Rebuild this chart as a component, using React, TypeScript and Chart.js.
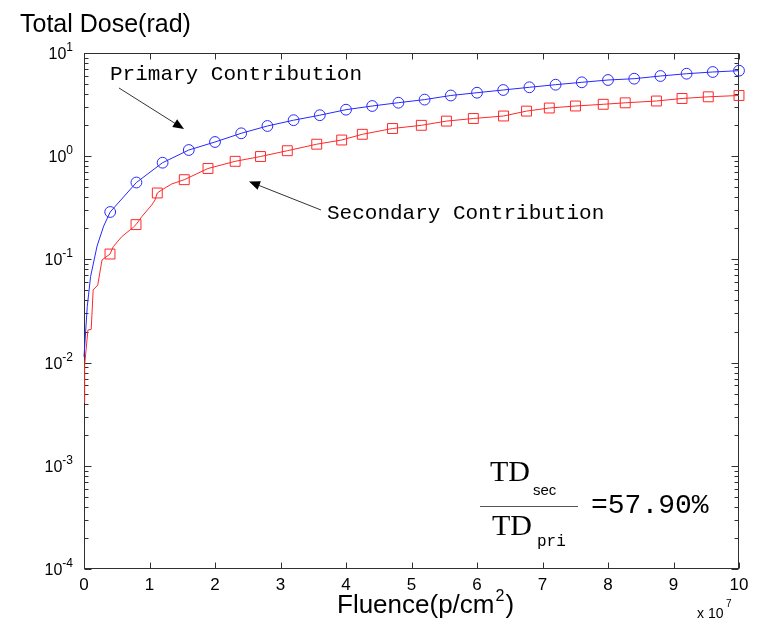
import React, { useEffect, useRef } from "react";
import { Chart, registerables } from "chart.js";

Chart.register(...registerables);

// Fluence (x 1e7 p/cm^2) and total dose (rad)
const primaryStartX = [0.0, 0.05, 0.1, 0.2, 0.3];
const primaryStartY = [0.0114, 0.035, 0.068, 0.135, 0.21];
const primaryX = [0.4, 0.8, 1.2, 1.6, 2.0, 2.4, 2.8, 3.2, 3.6, 4.0, 4.4, 4.8, 5.2, 5.6, 6.0, 6.4, 6.8, 7.2, 7.6, 8.0, 8.4, 8.8, 9.2, 9.6, 10.0];
const primaryY = [0.288, 0.556, 0.865, 1.148, 1.373, 1.667, 1.962, 2.233, 2.496, 2.823, 3.065, 3.299, 3.535, 3.875, 4.123, 4.38, 4.653, 4.93, 5.2, 5.474, 5.636, 5.985, 6.3, 6.545, 6.74];

const secondaryStepX = [0.0, 0.01, 0.06, 0.11, 0.14, 0.21, 0.275, 0.447, 0.576, 0.753, 0.881, 1.034, 1.084, 1.186, 1.339];
const secondaryStepY = [0.0041, 0.0095, 0.0207, 0.021, 0.0505, 0.0565, 0.0987, 0.1328, 0.166, 0.2047, 0.259, 0.3365, 0.3765, 0.4705, 0.538];
const secondaryX = [0.397, 0.794, 1.119, 1.531, 1.893, 2.308, 2.695, 3.104, 3.553, 3.934, 4.249, 4.71, 5.15, 5.534, 5.944, 6.405, 6.756, 7.104, 7.504, 7.927, 8.263, 8.74, 9.13, 9.531, 10.0];
const secondaryY = [0.1127, 0.2173, 0.44, 0.592, 0.76, 0.892, 0.993, 1.13, 1.307, 1.435, 1.63, 1.855, 1.992, 2.188, 2.319, 2.452, 2.735, 2.931, 3.065, 3.184, 3.29, 3.427, 3.624, 3.763, 3.875];

const xTicks = [0, 1, 2, 3, 4, 5, 6, 7, 8, 9, 10];
const yTickExponents = [-4, -3, -2, -1, 0, 1];
const yMinorFactors = [2, 3, 4, 5, 6, 7, 8, 9];

const yTitle = "Total Dose(rad)";
const xTitleMain = "Fluence(p/cm";
const xTitleSup = "2";
const primaryLabel = "Primary Contribution";
const secondaryLabel = "Secondary Contribution";
const ratioText = "=57.90%";

function pts(xs: number[], ys: number[]) {
  return xs.map((x, i) => ({ x, y: ys[i] }));
}
function merged(ax: number[], ay: number[], bx: number[], by: number[]) {
  return pts(ax, ay).concat(pts(bx, by)).sort((a, b) => a.x - b.x);
}

const SANS = '"Liberation Sans", Arial, Helvetica, sans-serif';
const MONO = '"Liberation Mono", "Courier New", monospace';
const SERIF = '"Liberation Serif", "Times New Roman", serif';

function arrow(ctx: CanvasRenderingContext2D, x1: number, y1: number, x2: number, y2: number) {
  const ang = Math.atan2(y2 - y1, x2 - x1);
  const L = 11, W = 4.5;
  ctx.strokeStyle = "#333";
  ctx.lineWidth = 1;
  ctx.beginPath();
  ctx.moveTo(x1, y1);
  ctx.lineTo(x2 - L * 0.8 * Math.cos(ang), y2 - L * 0.8 * Math.sin(ang));
  ctx.stroke();
  ctx.fillStyle = "#000";
  ctx.beginPath();
  ctx.moveTo(x2, y2);
  ctx.lineTo(x2 - L * Math.cos(ang) + W * Math.sin(ang), y2 - L * Math.sin(ang) - W * Math.cos(ang));
  ctx.lineTo(x2 - L * Math.cos(ang) - W * Math.sin(ang), y2 - L * Math.sin(ang) + W * Math.cos(ang));
  ctx.closePath();
  ctx.fill();
}

const framePlugin = {
  id: "matlabFrame",
  beforeDatasetsDraw(chart: any) {
    const ctx: CanvasRenderingContext2D = chart.ctx;
    const xs = chart.scales.x;
    const ys = chart.scales.y;
    const { left, right, top, bottom } = chart.chartArea;
    const L = Math.round(left) + 0.5, R = Math.round(right) - 0.5;
    const T = Math.round(top) + 0.5, B = Math.round(bottom) - 0.5;
    ctx.save();
    ctx.strokeStyle = "#303030";
    ctx.lineWidth = 1;
    ctx.strokeRect(L, T, R - L, B - T);
    ctx.beginPath();
    xTicks.forEach((v) => {
      const px = Math.round(xs.getPixelForValue(v)) + 0.5;
      ctx.moveTo(px, B); ctx.lineTo(px, B - 6);
      ctx.moveTo(px, T); ctx.lineTo(px, T + 6);
    });
    yTickExponents.forEach((e, i) => {
      const py = Math.round(ys.getPixelForValue(Math.pow(10, e))) + 0.5;
      ctx.moveTo(L, py); ctx.lineTo(L + 7, py);
      ctx.moveTo(R, py); ctx.lineTo(R - 7, py);
      if (i < yTickExponents.length - 1) {
        yMinorFactors.forEach((f) => {
          const my = Math.round(ys.getPixelForValue(f * Math.pow(10, e))) + 0.5;
          ctx.moveTo(L, my); ctx.lineTo(L + 4, my);
          ctx.moveTo(R, my); ctx.lineTo(R - 4, my);
        });
      }
    });
    ctx.stroke();
    ctx.restore();
  },
  afterDraw(chart: any) {
    const ctx: CanvasRenderingContext2D = chart.ctx;
    const xs = chart.scales.x;
    const ys = chart.scales.y;
    ctx.save();
    // tick labels
    ctx.fillStyle = "#000";
    ctx.textBaseline = "alphabetic";
    ctx.font = "17px " + SANS;
    ctx.textAlign = "center";
    xTicks.forEach((v) => {
      ctx.fillText(String(v), xs.getPixelForValue(v), 590);
    });
    yTickExponents.forEach((e) => {
      const py = ys.getPixelForValue(Math.pow(10, e));
      ctx.font = "12px " + SANS;
      const sup = String(e);
      const sw = ctx.measureText(sup).width;
      const rightEdge = 73;
      ctx.textAlign = "left";
      ctx.fillText(sup, rightEdge - sw, py - 2);
      ctx.font = "16px " + SANS;
      ctx.textAlign = "right";
      ctx.fillText("10", rightEdge - sw, py + 6);
    });

    // multiplier
    ctx.textAlign = "left";
    ctx.font = "14px " + SANS;
    ctx.fillText("x 10", 697, 618);
    ctx.font = "10px " + SANS;
    ctx.fillText("7", 726, 607);

    // titles
    ctx.font = "25px " + SANS;
    ctx.fillText(yTitle, 20, 32);
    ctx.font = "26px " + SANS;
    ctx.fillText(xTitleMain, 337, 613);
    const mw = ctx.measureText(xTitleMain).width;
    ctx.font = "16px " + SANS;
    ctx.fillText(xTitleSup, 337 + mw + 1, 601);
    const sw2 = ctx.measureText(xTitleSup).width;
    ctx.font = "26px " + SANS;
    ctx.fillText(")", 337 + mw + sw2 + 2, 613);

    // annotations
    ctx.font = "21px " + MONO;
    ctx.fillText(primaryLabel, 110, 80);
    ctx.fillText(secondaryLabel, 327, 219);
    arrow(ctx, 119, 88, 184, 129);
    arrow(ctx, 321, 210, 249, 181.5);

    // ratio
    ctx.font = "30px " + SERIF;
    ctx.fillText("TD", 490, 481);
    ctx.fillText("TD", 492, 535);
    ctx.font = "15px " + SANS;
    ctx.fillText("sec", 533, 495);
    ctx.font = "16px " + MONO;
    ctx.fillText("pri", 537, 546);
    ctx.font = "28px " + MONO;
    ctx.fillText(ratioText, 591, 513);
    ctx.strokeStyle = "#555";
    ctx.beginPath();
    ctx.moveTo(480, 506.5); ctx.lineTo(578, 506.5);
    ctx.stroke();
    ctx.restore();
  },
};

export default function App() {
  const ref = useRef<HTMLCanvasElement | null>(null);
  useEffect(() => {
    if (!ref.current) return;
    const chart = new Chart(ref.current, {
      type: "scatter",
      data: {
        datasets: [
          {
            data: merged(primaryStartX, primaryStartY, primaryX, primaryY),
            showLine: true,
            borderColor: "rgb(40,40,255)",
            borderWidth: 1,
            pointRadius: 0,
            clip: false,
          },
          {
            data: pts(primaryX, primaryY),
            showLine: false,
            pointStyle: "circle",
            pointRadius: 5.4,
            pointBorderWidth: 1,
            borderColor: "rgb(40,40,255)",
            backgroundColor: "rgba(0,0,0,0)",
            clip: false,
          },
          {
            data: merged(secondaryStepX, secondaryStepY, secondaryX, secondaryY),
            showLine: true,
            borderColor: "rgb(255,40,40)",
            borderWidth: 1,
            pointRadius: 0,
            clip: false,
          },
          {
            data: pts(secondaryX, secondaryY),
            showLine: false,
            pointStyle: "rect",
            pointRadius: 7,
            pointBorderWidth: 1,
            borderColor: "rgb(255,40,40)",
            backgroundColor: "rgba(0,0,0,0)",
            clip: false,
          },
        ] as any,
      },
      options: {
        animation: false,
        responsive: false,
        events: [],
        layout: { padding: { left: 84, top: 53, right: 19, bottom: 55 } },
        plugins: { legend: { display: false }, tooltip: { enabled: false } },
        scales: {
          x: { type: "linear", min: 0, max: 10, display: false },
          y: { type: "logarithmic", min: 1e-4, max: 10, display: false },
        },
      } as any,
      plugins: [framePlugin],
    });
    return () => chart.destroy();
  }, []);
  return (
    <div style={{ position: "absolute", left: 0, top: 0, width: 758, height: 624, background: "#fff" }}>
      <canvas ref={ref} width={758} height={624} style={{ display: "block" }} />
    </div>
  );
}
